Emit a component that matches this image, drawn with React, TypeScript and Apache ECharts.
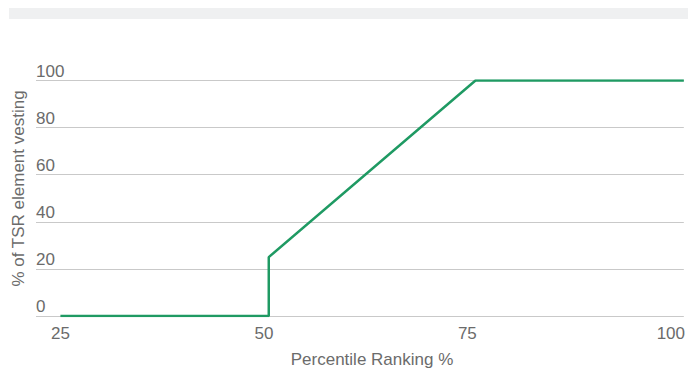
import React, { useEffect, useRef } from "react";
import * as echarts from "echarts";

// Vesting schedule: percentile ranking vs % of TSR element vesting
const percentile = [25, 50.6, 50.6, 76, 101.6];
const vesting = [0, 0, 25, 100, 100];
const xTickValues = [25, 50, 75, 100];
const yTicks = [0, 20, 40, 60, 80, 100];

const FONT = "'Liberation Sans', Arial, sans-serif";
const TEXT = "#6b6b6b";
const GRID = "#c9c9c9";

export default function App() {
  const ref = useRef<HTMLDivElement>(null);

  useEffect(() => {
    if (!ref.current) return;
    const chart = echarts.init(ref.current, null, { renderer: "svg" });
    chart.setOption({
      animation: false,
      backgroundColor: "#ffffff",
      grid: { left: 36, right: 0, top: 80.5, bottom: 53, containLabel: false },
      graphic: [
        {
          type: "rect",
          shape: { x: 9, y: 8, width: 679, height: 11 },
          style: { fill: "#eff0f1" },
          silent: true,
        },
        {
          type: "text",
          x: 372,
          y: 359.5,
          style: {
            text: "Percentile Ranking %",
            font: `17px ${FONT}`,
            fill: TEXT,
            align: "center",
            verticalAlign: "middle",
          },
        },
        {
          type: "text",
          x: 18.5,
          y: 188.5,
          rotation: Math.PI / 2,
          style: {
            text: "% of TSR element vesting",
            font: `17px ${FONT}`,
            fill: TEXT,
            align: "center",
            verticalAlign: "middle",
          },
        },
      ],
      xAxis: {
        type: "value",
        min: 22,
        max: 101.6,
        splitLine: { show: false },
        axisLine: { show: false },
        axisTick: { show: false },
        axisLabel: {
          customValues: xTickValues,
          color: TEXT,
          fontFamily: FONT,
          fontSize: 17,
          margin: 9,
        },
      },
      yAxis: {
        type: "value",
        min: yTicks[0],
        max: yTicks[yTicks.length - 1],
        interval: 20,
        axisLine: { show: false },
        axisTick: { show: false },
        splitLine: { lineStyle: { color: GRID, width: 1 } },
        axisLabel: {
          inside: true,
          margin: 0,
          align: "left",
          verticalAlign: "bottom",
          color: TEXT,
          fontFamily: FONT,
          fontSize: 17,
          padding: [0, 0, 1, 0],
        },
      },
      series: [
        {
          type: "line",
          data: percentile.map((p, i) => [p, vesting[i]]),
          showSymbol: false,
          lineStyle: { color: "#1f9a63", width: 2.5 },
          z: 5,
        },
      ],
    });
    return () => chart.dispose();
  }, []);

  return (
    <div
      ref={ref}
      style={{ position: "fixed", left: 0, top: 0, width: 688, height: 369 }}
    />
  );
}
